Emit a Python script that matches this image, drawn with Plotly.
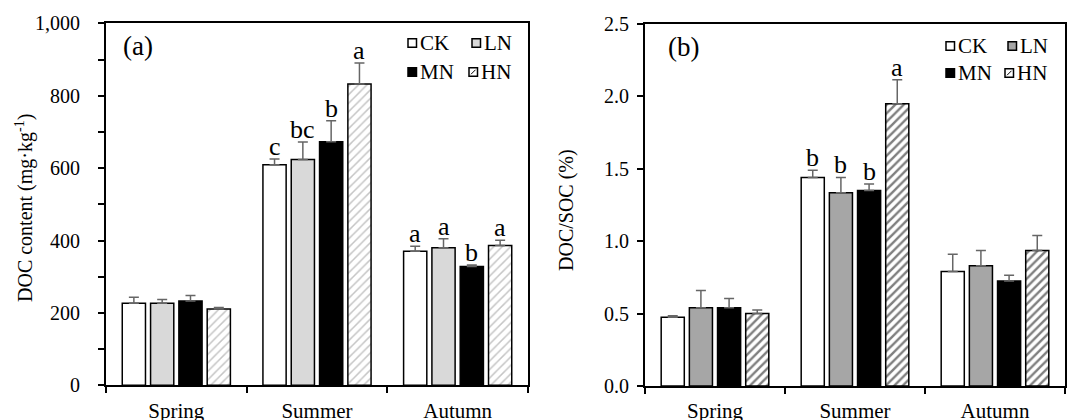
import plotly.graph_objects as go

W, H = 1067, 420

seasons = ["Spring", "Summer", "Autumn"]
treatments = ["CK", "LN", "MN", "HN"]

# Panel (a): DOC content (mg·kg-1)
doc_CK = [227, 609, 370]
doc_LN = [227, 624, 380]
doc_MN = [233, 673, 328]
doc_HN = [211, 832, 386]
doc_err_CK = [16, 16, 14]
doc_err_LN = [10, 48, 25]
doc_err_MN = [15, 58, 4]
doc_err_HN = [4, 58, 15]
doc_let_CK = ["", "c", "a"]
doc_let_LN = ["", "bc", "a"]
doc_let_MN = ["", "b", "b"]
doc_let_HN = ["", "a", "a"]

# Panel (b): DOC/SOC (%)
rat_CK = [0.475, 1.44, 0.79]
rat_LN = [0.54, 1.335, 0.83]
rat_MN = [0.54, 1.35, 0.725]
rat_HN = [0.50, 1.95, 0.935]
rat_err_CK = [0.01, 0.05, 0.12]
rat_err_LN = [0.12, 0.105, 0.105]
rat_err_MN = [0.065, 0.045, 0.04]
rat_err_HN = [0.025, 0.165, 0.105]
rat_let_CK = ["", "b", ""]
rat_let_LN = ["", "b", ""]
rat_let_MN = ["", "b", ""]
rat_let_HN = ["", "a", ""]

FONT = "Liberation Serif"
BARGAP = 0.195
GROUPGAP = 0.18

panels = [
    dict(xa="x", ya="y",
         vals=[doc_CK, doc_LN, doc_MN, doc_HN],
         errs=[doc_err_CK, doc_err_LN, doc_err_MN, doc_err_HN],
         lets=[doc_let_CK, doc_let_LN, doc_let_MN, doc_let_HN],
         fills=["white", "#d9d9d9", "black", "white"],
         hatch=dict(shape="/", fgcolor="#8c8c8c", bgcolor="white", size=6, solidity=0.25)),
    dict(xa="x2", ya="y2",
         vals=[rat_CK, rat_LN, rat_MN, rat_HN],
         errs=[rat_err_CK, rat_err_LN, rat_err_MN, rat_err_HN],
         lets=[rat_let_CK, rat_let_LN, rat_let_MN, rat_let_HN],
         fills=["white", "#a6a6a6", "black", "white"],
         hatch=dict(shape="/", fgcolor="black", bgcolor="white", size=6, solidity=0.4)),
]

fig = go.Figure()
annotations = []
shapes = []

slot = (1 - BARGAP) / len(treatments)
for p in panels:
    for j, name in enumerate(treatments):
        marker = dict(color=p["fills"][j], line=dict(color="black", width=1.5))
        if name == "HN":
            marker["pattern"] = p["hatch"]
        fig.add_trace(go.Bar(
            x=seasons, y=p["vals"][j], name=name, xaxis=p["xa"], yaxis=p["ya"],
            marker=marker, showlegend=False,
            error_y=dict(type="data", array=p["errs"][j], arrayminus=[0] * len(seasons),
                         symmetric=False, color="#666666", thickness=1.5, width=5),
        ))
        off = -(1 - BARGAP) / 2 + (j + 0.5) * slot
        for i, s in enumerate(seasons):
            t = p["lets"][j][i]
            if t:
                annotations.append(dict(
                    x=i + off, y=p["vals"][j][i] + p["errs"][j][i], xref=p["xa"], yref=p["ya"],
                    text=t, showarrow=False, yanchor="bottom", yshift=-4,
                    font=dict(family=FONT, size=26, color="black")))

def px(x):
    return x / W

def py(y):
    return 1 - y / H

# Manual legends (2 x 2) in each panel
legend_layouts = [
    [(408, 43), (472, 43), (408, 72), (469, 72)],
    [(946, 46), (1008, 46), (946, 73), (1005, 73)],
]
for p, lay in zip(panels, legend_layouts):
    for j, name in enumerate(treatments):
        x0, yc = lay[j]
        s = 8.5
        shapes.append(dict(type="rect", xref="paper", yref="paper",
                           x0=px(x0), x1=px(x0 + s), y0=py(yc + s / 2), y1=py(yc - s / 2),
                           fillcolor=p["fills"][j], line=dict(color="black", width=1.5)))
        if name == "HN":
            shapes.append(dict(type="line", xref="paper", yref="paper",
                               x0=px(x0 + 2), x1=px(x0 + s - 2), y0=py(yc + s / 2 - 2), y1=py(yc - s / 2 + 2),
                               line=dict(color="black", width=1)))
        annotations.append(dict(x=px(x0 + s + 1), y=py(yc), xref="paper", yref="paper",
                                text=name, showarrow=False, xanchor="left", yanchor="middle",
                                font=dict(family=FONT, size=21, color="black")))

# Panel labels
annotations.append(dict(x=px(121), y=py(46), xref="paper", yref="paper", text="(a)",
                        showarrow=False, xanchor="left", yanchor="middle",
                        font=dict(family=FONT, size=27, color="black")))
annotations.append(dict(x=px(666), y=py(47), xref="paper", yref="paper", text="(b)",
                        showarrow=False, xanchor="left", yanchor="middle",
                        font=dict(family=FONT, size=27, color="black")))

# Axis titles
annotations.append(dict(x=px(24), y=py(208), xref="paper", yref="paper",
                        text="DOC content (mg·kg<sup>-1</sup>)", textangle=-90, showarrow=False,
                        xanchor="center", yanchor="middle",
                        font=dict(family=FONT, size=20, color="black")))
annotations.append(dict(x=px(566), y=py(210), xref="paper", yref="paper",
                        text="DOC/SOC (%)", textangle=-90, showarrow=False,
                        xanchor="center", yanchor="middle",
                        font=dict(family=FONT, size=20, color="black")))

xcommon = dict(type="category", range=[-0.5, 2.5], tickson="boundaries", ticks="outside",
               ticklen=6, tickwidth=1.5, tickcolor="black", showline=True, linewidth=2,
               linecolor="black", mirror=True, showgrid=False, zeroline=False,
               tickfont=dict(family=FONT, size=21, color="black"), ticklabelstandoff=5,
               automargin=False, fixedrange=True)
ycommon = dict(ticks="outside", ticklen=6, tickwidth=1.5, tickcolor="black", showline=True,
               linewidth=2, linecolor="black", mirror=True, showgrid=False, zeroline=False,
               tickfont=dict(family=FONT, size=20, color="black"), automargin=False,
               fixedrange=True)

fig.update_layout(
    width=W, height=H,
    margin=dict(l=0, r=0, t=0, b=0),
    paper_bgcolor="white", plot_bgcolor="white",
    barmode="group", bargap=BARGAP, bargroupgap=GROUPGAP,
    showlegend=False,
    xaxis=dict(domain=[px(106), px(528)], anchor="y", **xcommon),
    yaxis=dict(domain=[py(385.3), py(23.3)], anchor="x", range=[0, 1000], dtick=200,
               tickformat=",d", ticklabelstandoff=14,
               minor=dict(dtick=100, ticks="outside", ticklen=6, tickwidth=1.5, tickcolor="black",
                          showgrid=False),
               **ycommon),
    xaxis2=dict(domain=[px(645), px(1065)], anchor="y2", **xcommon),
    yaxis2=dict(domain=[py(386), py(24)], anchor="x2", range=[0, 2.5], dtick=0.5,
                tickformat=".1f", ticklabelstandoff=4, **ycommon),
    annotations=annotations,
    shapes=shapes,
    font=dict(family=FONT, color="black"),
)

fig.write_html("out.html")
